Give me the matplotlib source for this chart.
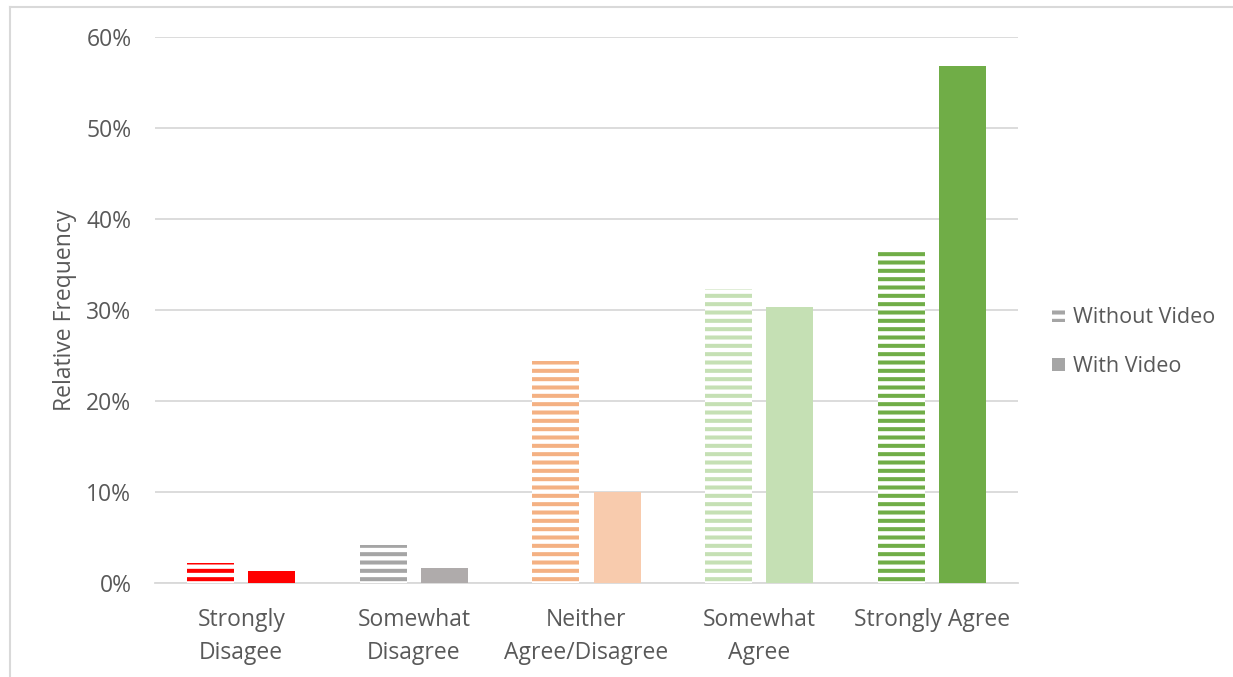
import matplotlib
matplotlib.use("Agg")
import matplotlib.pyplot as plt
import numpy as np
from matplotlib.patches import Patch
from matplotlib.lines import Line2D

# data
categories = ["Strongly\nDisagee", "Somewhat\nDisagree", "Neither\nAgree/Disagree",
              "Somewhat\nAgree", "Strongly Agree"]
without_video = [2.2, 4.2, 24.4, 32.3, 36.8]
with_video = [1.3, 1.6, 10.0, 30.3, 56.8]
yticks = [0, 10, 20, 30, 40, 50, 60]

# per-category colours (striped / solid)
stripe_colors = ["#FF0000", "#A5A5A5", "#F4B183", "#C5E0B4", "#70AD47"]
solid_colors = ["#FF0000", "#AFABAB", "#F8CBAD", "#C5E0B4", "#70AD47"]

plt.rcParams['font.family'] = ['Open Sans', 'DejaVu Sans']
plt.rcParams['hatch.linewidth'] = 2.9
text_color = '#595959'

fig = plt.figure(figsize=(12.33, 6.77), dpi=100)
ax = fig.add_axes([155 / 1233, 1 - 583 / 677, (1018 - 155) / 1233, (583 - 37) / 677])

x = np.arange(len(categories))
width = 0.272
offset = 0.177

for i in range(len(categories)):
    ax.bar(x[i] - offset, without_video[i], width, facecolor='white',
           edgecolor=stripe_colors[i], linewidth=0, hatch='--', zorder=3)
    ax.bar(x[i] + offset, with_video[i], width, color=solid_colors[i],
           linewidth=0, zorder=3)

ax.set_xlim(-0.5, len(categories) - 0.5)
ax.set_ylim(0, 60)
ax.set_yticks(yticks)
ax.set_yticklabels([f"{v}%" for v in yticks], fontsize=16.5, color=text_color)
ax.set_xticks(x)
ax.set_xticklabels(categories, fontsize=16.5, color=text_color, linespacing=1.5)
ax.tick_params(axis='both', length=0)
ax.tick_params(axis='y', pad=17)
ax.tick_params(axis='x', pad=18)

ax.grid(True, axis='y', color='#D9D9D9', linewidth=1.3, zorder=0)
for s in ['top', 'right', 'left']:
    ax.spines[s].set_visible(False)
ax.spines['bottom'].set_color('#D9D9D9')
ax.spines['bottom'].set_linewidth(1.3)

ax.set_ylabel("Relative Frequency", fontsize=16.5, color=text_color, labelpad=7)

handles = [Patch(facecolor='white', edgecolor='#A5A5A5', linewidth=0, hatch='--'),
           Patch(facecolor='#A5A5A5', linewidth=0)]
leg = fig.legend(handles, ["Without Video", "With Video"], loc='center left',
                 bbox_to_anchor=(1033 / 1233, 1 - 342 / 677), frameon=False,
                 fontsize=15.5, labelcolor=text_color, handlelength=0.6,
                 handleheight=0.6, handletextpad=0.35, labelspacing=1.3)

# chart border (top and left visible)
fig.add_artist(Line2D([10 / 1233, 1.0], [1 - 7 / 677, 1 - 7 / 677],
                      transform=fig.transFigure, color='#D9D9D9', linewidth=1.5))
fig.add_artist(Line2D([10 / 1233, 10 / 1233], [0, 1 - 7 / 677],
                      transform=fig.transFigure, color='#D9D9D9', linewidth=1.5))

plt.savefig("out.png", dpi=100, facecolor='white')
plt.close()
